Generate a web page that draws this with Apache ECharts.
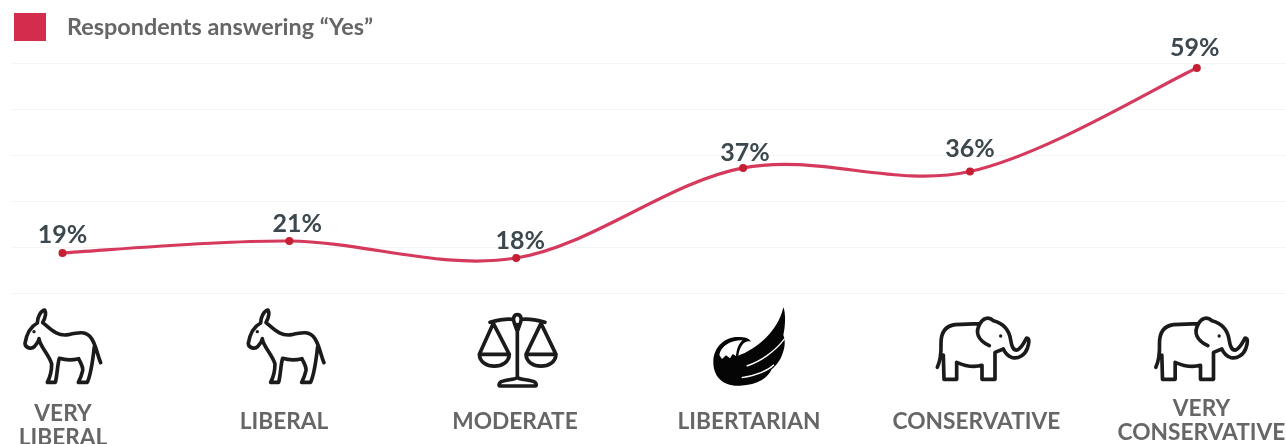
<!DOCTYPE html>
<html><head><meta charset="utf-8">
<style>html,body{margin:0;padding:0;background:#fff;overflow:hidden}#c{width:1286px;height:444px}</style>
<script src="https://cdn.jsdelivr.net/npm/echarts@6/dist/echarts.min.js"></script>
</head><body><div id="c"></div>
<script>
const seriesName = 'Respondents answering “Yes”';
const categories = ['VERY\nLIBERAL','LIBERAL','MODERATE','LIBERTARIAN','CONSERVATIVE','VERY\nCONSERVATIVE'];
const positions = [0,1,2,3,4,5];
const values = [18.7,21.3,17.6,37.2,36.4,58.9];
const pctLabels = ['19%','21%','18%','37%','36%','59%'];

const labelNudge = [[0,6],[8,7],[4,7],[2,10],[0,2],[-2,4]];
const catLayout = [[63,426],[284,422],[515,422],[749,422],[976.5,422],[1201.5,421]];

const donkey = 'M302,218 C292,195 290,170 275,146 C260,122 235,127 205,134 C170,140 150,115 128,98 C135,85 140,70 134,60 C122,62 112,82 112,99 C95,108 80,130 75,160 C76,175 95,178 103,170 C110,162 116,155 117,146 C120,170 148,195 155,222 C155,245 150,262 142,277 L166,277 C172,255 172,225 178,205 C195,210 220,210 236,206 C242,220 250,230 248,242 C245,255 240,268 235,277 L262,277 C272,255 278,215 283,170';
const elephant = 'M172,232 C182,210 184,190 183,160 C183,130 195,108 225,104 L300,101 C308,85 325,78 340,92 C370,100 388,120 392,150 C395,170 400,182 412,180 C425,175 432,158 440,144 C450,145 447,160 442,175 C435,195 415,207 398,203 C385,200 375,188 370,177 L345,187 L345,268 L306,268 L306,226 C280,233 255,228 230,217 L230,268 L192,268 L190,195 M300,101 C285,125 292,150 328,167';
const scales = 'M262,104 L262,262 M180,97 C205,90 225,85 248,88 M276,88 C300,85 320,90 345,97 M190,100 L148,193 L238,193 L190,100 M148,193 C150,240 236,240 238,193 M333,100 L288,193 L378,193 L333,100 M288,193 C290,240 376,240 378,193 M262,262 C255,270 225,268 212,276 C206,280 206,288 210,288 L316,288 C320,288 320,280 314,276 C300,268 270,270 262,262 M262,74 C252,74 248,85 252,96 L262,124 L272,96 C276,85 272,74 262,74';
const eagleBody = 'M1060,52 C1068,70 1066,110 1060,135 C1066,150 1066,170 1058,190 C1050,215 1035,230 1025,238 C1015,262 985,285 930,287 C880,290 848,260 850,212 C852,170 885,140 925,141 C945,141 958,145 963,155 C945,150 930,165 925,197 C975,180 1045,125 1060,52 Z';
const eagleHead = 'M868,195 C872,172 892,158 915,153 C922,151 930,150 938,151 C926,160 920,178 918,198 L908,192 L900,205 L888,196 L876,207 Z';
const eagleSlit = 'M950,228 C990,215 1035,185 1064,146 M935,263 C965,258 1010,245 1032,224';

const third = 1/3;
function pathEl(d, ox, oy, style){
  return {type:'path',x:ox,y:oy,scaleX:third,scaleY:third,silent:true,shape:{pathData:d},style};
}
const inkStroke = {fill:'none',stroke:'#1b1b1b',lineWidth:11,lineJoin:'round',lineCap:'round'};
function icon(d, ox, oy, eyeX, eyeY){
  const out = [pathEl(d,ox,oy,inkStroke)];
  if(eyeX!==undefined) out.push({type:'circle',x:ox,y:oy,scaleX:third,scaleY:third,silent:true,
    shape:{cx:eyeX,cy:eyeY,r:5},style:{fill:'#1b1b1b'}});
  return out;
}
const iconEls = [
  ...icon(donkey,0,290,102,125),
  ...icon(donkey,223.3,290,102,125),
  ...icon(scales,430,290),
  pathEl(eagleBody,430,290,{fill:'#050505'}),
  pathEl(eagleHead,430,290,{fill:'#fff'}),
  pathEl(eagleSlit,430,290,{fill:'none',stroke:'#fff',lineWidth:4}),
  ...icon(elephant,880,290,362,138),
  ...icon(elephant,1098.5,290,362,138)
];
const catText = categories.map((t,i)=>({type:'text',x:catLayout[i][0],y:catLayout[i][1],silent:true,
    style:{text:t,fill:'#666666',font:'700 22.7px Lato',lineHeight:24,align:'center',verticalAlign:'middle'}}));

// Spline through the data points, placed by the chart's own axes.
function renderCurve(params, api){
  if(params.dataIndex!==0) return null;
  const p = values.map((v,i)=>api.coord([positions[i],v]));
  let d = 'M'+p[0][0]+','+p[0][1];
  for(let i=0;i<p.length-1;i++){
    const a=p[Math.max(i-1,0)], b=p[i], c=p[i+1], e=p[Math.min(i+2,p.length-1)];
    d += ' C'+(b[0]+(c[0]-a[0])/6)+','+(b[1]+(c[1]-a[1])/6)+' '+(c[0]-(e[0]-b[0])/6)+','+(c[1]-(e[1]-b[1])/6)+' '+c[0]+','+c[1];
  }
  return {type:'path',shape:{pathData:d},style:{fill:'none',stroke:'#d53a5d',lineWidth:3.2,lineCap:'round'}};
}

const chart = echarts.init(document.getElementById('c'),null,{renderer:'canvas'});
chart.setOption({
  animation:false,
  backgroundColor:'#fff',
  legend:{
    show:true,left:9,top:8,itemWidth:32,itemHeight:28,itemGap:0,selectedMode:false,
    data:[{name:seriesName,icon:'rect',itemStyle:{color:'#d32c4d',borderWidth:0}}],
    textStyle:{fontFamily:'Lato',fontSize:23.4,fontWeight:700,color:'#666666',padding:[0,0,0,16]}
  },
  grid:{left:11,right:0,top:63,bottom:151,containLabel:false},
  xAxis:{type:'value',min:-0.227,max:5.393,show:false,splitLine:{show:false}},
  yAxis:{type:'value',min:10,max:60,interval:10,axisLine:{show:false},axisTick:{show:false},axisLabel:{show:false},
    splitLine:{show:true,lineStyle:{color:'#f5f5f5',width:1}}},
  series:[{
    name:'curve',type:'custom',coordinateSystem:'cartesian2d',silent:true,clip:false,z:1,
    encode:{x:0,y:1},data:values.map((v,i)=>[positions[i],v]),renderItem:renderCurve
  },{
    name:seriesName,type:'line',symbol:'circle',symbolSize:8,clip:false,z:2,
    itemStyle:{color:'#c41f33'},
    lineStyle:{width:0,opacity:0},
    data:values.map((v,i)=>({value:[positions[i],v],label:{offset:labelNudge[i]}})),
    label:{show:true,position:'top',distance:8,
      formatter:p=>pctLabels[p.dataIndex],
      fontFamily:'Lato',fontSize:25,fontWeight:700,color:'#3c474e'}
  },{
    name:'icons',type:'custom',coordinateSystem:'none',silent:true,data:[0],
    renderItem:()=>({type:'group',children:iconEls})
  }],
  graphic:catText
});
</script></body></html>
